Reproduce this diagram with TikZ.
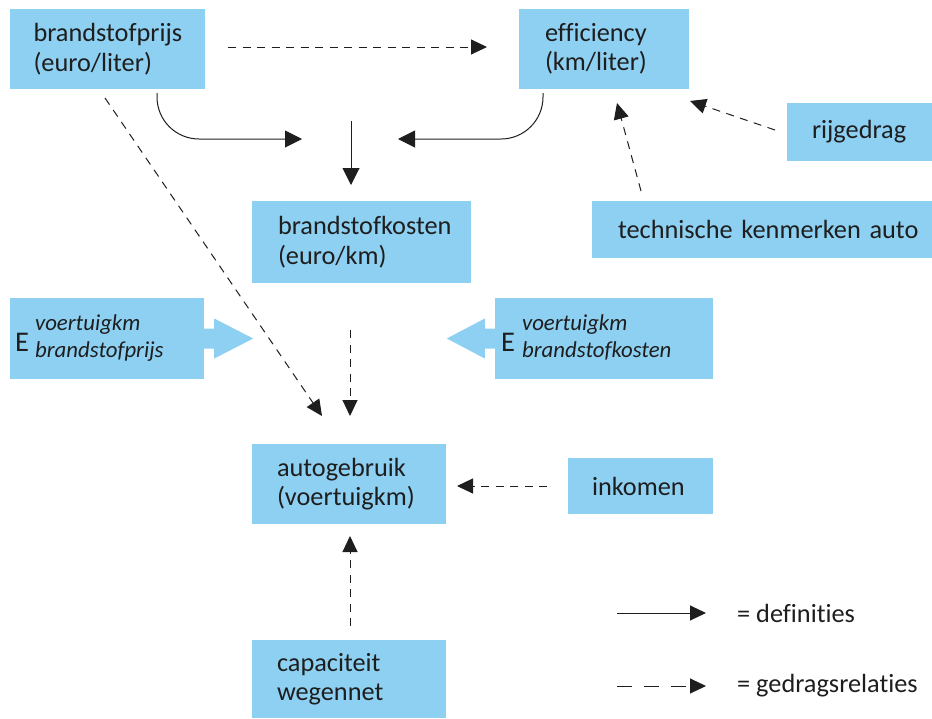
\documentclass[tikz,border=0pt]{standalone}
\usepackage{fontspec}
\setmainfont{Carlito}[Ligatures=NoCommon]
\usetikzlibrary{arrows.meta}
\definecolor{boxblue}{RGB}{141,208,242}
\definecolor{ink}{RGB}{30,30,30}
\tikzset{
  box/.style={fill=boxblue, inner ysep=0pt, align=left, anchor=center,
    font=\fontsize{26.3}{29.5}\selectfont, text=ink},
  defarrow/.style={draw=ink, line width=1pt, -{Triangle[length=17pt,width=17pt]}},
  gedarrow/.style={defarrow, dash pattern=on 8pt off 6.5pt, -{Triangle[length=16pt,width=15pt]}},
  itext/.style={font=\fontsize{22.8}{24}\selectfont\itshape, text=ink, inner sep=0pt, anchor=base west},
  etext/.style={font=\fontsize{28.5}{30}\selectfont, text=ink, inner sep=0pt, anchor=base west},
  legtext/.style={font=\fontsize{26.3}{29}\selectfont, text=ink, inner sep=0pt, anchor=west},
}
\begin{document}
\begin{tikzpicture}[x=1pt,y=-1pt]
\useasboundingbox (0,0) rectangle (932,718);
% boxes
\node[box, minimum width=195pt, minimum height=80pt, inner xsep=24pt, text width=147pt] (bp) at (107,49) {\mbox{brandstofprijs}\\\mbox{(euro/liter)}};
\node[box, minimum width=170pt, minimum height=80pt, inner xsep=26pt, text width=118pt] (eff) at (604,49) {\mbox{efficiency}\\\mbox{(km/liter)}};
\node[box, minimum width=145pt, minimum height=58pt, inner xsep=25pt, text width=95pt] (rij) at (859.5,132) {\mbox{rijgedrag}};
\node[box, minimum width=340pt, minimum height=57pt, inner xsep=26pt, text width=288pt] (tech) at (762,229.5) {\mbox{technische kenmerken auto}};
\node[box, minimum width=219pt, minimum height=82pt, inner xsep=26pt, text width=167pt] (bk) at (361.5,242) {\mbox{brandstofkosten}\\\mbox{(euro/km)}};
\node[box, minimum width=194pt, minimum height=80pt, inner xsep=25pt, text width=144pt] (auto) at (349,484) {\mbox{autogebruik}\\\mbox{(voertuigkm)}};
\node[box, minimum width=145pt, minimum height=56pt, inner xsep=24pt, text width=97pt] (ink) at (640.5,486) {\mbox{inkomen}};
\node[box, minimum width=194pt, minimum height=78pt, inner xsep=25pt, text width=144pt] (cap) at (349,679) {\mbox{capaciteit}\\\mbox{wegennet}};
% elasticity boxes
\node[box, minimum width=194pt, minimum height=81pt] (ebp) at (107,338.5) {};
\node[box, minimum width=218pt, minimum height=81pt] (ebk) at (604,338.5) {};
\fill[boxblue] (ebp.east) ++(-1,-10) -- ++(11,0) -- ++(0,-10) -- ++(39,20) -- ++(-39,20) -- ++(0,-10) -- ++(-11,0) -- cycle;
\fill[boxblue] (ebk.west) ++(1,-10) -- ++(-11,0) -- ++(0,-10) -- ++(-38,20) -- ++(38,20) -- ++(0,-10) -- ++(11,0) -- cycle;
\node[etext] (ebpE) at (15,351) {E};
\node[itext] (ebpS) at (35,330) {voertuigkm};
\node[itext] (ebpL) at (35,357.5) {brandstofprijs};
\node[etext] (ebkE) at (501,351) {E};
\node[itext] (ebkS) at (522,330) {voertuigkm};
\node[itext] (ebkL) at (522,357.5) {brandstofkosten};
% coordinates
\coordinate (bpS) at (157,93);
\coordinate (kinL) at (302,139);
\coordinate (effS) at (543,93);
\coordinate (kinR) at (398,139);
\coordinate (vTop) at (351,121);
\coordinate (vBot) at (351,185);
\coordinate (dpS) at (228,47);
\coordinate (dpE) at (487,47);
\coordinate (bpD) at (105,98);
\coordinate (autoL) at (322,416);
\coordinate (bkD) at (350,330);
\coordinate (autoT) at (350,416);
\coordinate (rijS) at (775,130);
\coordinate (rijE) at (690,101);
\coordinate (techS) at (641,191);
\coordinate (techE) at (617,103);
\coordinate (inkS) at (547,486);
\coordinate (inkE) at (457,486);
\coordinate (capS) at (350,626);
\coordinate (capE) at (350,536);
% connectors
\draw[defarrow, rounded corners=42pt] (bpS) |- (kinL);
\draw[defarrow, rounded corners=42pt] (effS) |- (kinR);
\draw[defarrow] (vTop) -- (vBot);
\draw[gedarrow] (dpS) -- (dpE);
\draw[gedarrow] (bpD) -- (autoL);
\draw[gedarrow] (bkD) -- (autoT);
\draw[gedarrow] (rijS) -- (rijE);
\draw[gedarrow] (techS) -- (techE);
\draw[gedarrow] (inkS) -- (inkE);
\draw[gedarrow] (capS) -- (capE);
% legend
\coordinate (l1s) at (617,613);
\coordinate (l1e) at (706,613);
\coordinate (l2s) at (617,686);
\coordinate (l2e) at (706,686);
\draw[defarrow, -{Triangle[length=16pt,width=15pt]}] (l1s) -- (l1e);
\draw[gedarrow, dash pattern=on 15pt off 12pt] (l2s) -- (l2e);
\node[legtext] (leg1) at (737,613) {= definities};
\node[legtext] (leg2) at (737,686) {= gedragsrelaties};
\end{tikzpicture}
\end{document}
